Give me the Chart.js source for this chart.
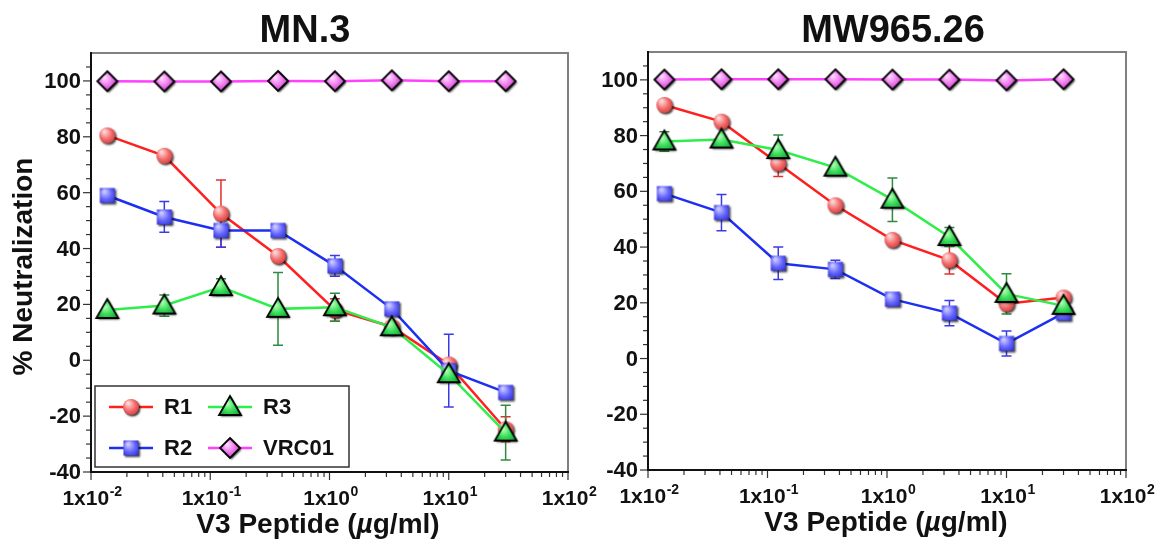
<!DOCTYPE html>
<html>
<head>
<meta charset="utf-8">
<script src="https://cdn.jsdelivr.net/npm/chart.js@4.4.1/dist/chart.umd.min.js"></script>
<style>
  html, body { margin: 0; padding: 0; background: #fff; }
  body { width: 1166px; height: 544px; position: relative; overflow: hidden; }
  canvas { position: absolute; top: 0; }
  #mn3 { left: 0; }
  #mw965 { left: 583px; }
</style>
</head>
<body>
<canvas id="mn3" width="640" height="544"></canvas>
<canvas id="mw965" width="583" height="544"></canvas>
<script>
// peptide concentrations (ug/ml), 3-fold dilutions
const conc = [0.0137, 0.0412, 0.123, 0.370, 1.11, 3.33, 10, 30];
const xTickExps = [-2, -1, 0, 1, 2];
const yTickLabels = [-40, -20, 0, 20, 40, 60, 80, 100];

// MN.3
const mnR1 = [80.5, 73.2, 52.5, 37.3, 18.0, 12.0, -1.5, -24.7];
const mnR1Err = [0, 0, 12.0, 2.0, 4.0, 0, 0, 4.5];
const mnR2 = [59.0, 51.3, 46.5, 46.5, 33.8, 18.4, -3.7, -11.5];
const mnR2Err = [0, 5.5, 6.0, 0, 3.7, 0, 13.0, 0];
const mnR3 = [18.0, 19.6, 26.2, 18.4, 19.0, 11.8, -5.0, -25.9];
const mnR3Err = [0, 3.8, 3.0, 13.0, 5.0, 0, 0, 9.8];
const mnVRC01 = [99.9, 99.8, 99.8, 100.0, 99.9, 100.2, 99.9, 99.9];

// MW965.26
const mwR1 = [91.0, 85.0, 70.0, 55.0, 42.6, 35.3, 19.7, 21.9];
const mwR1Err = [0, 0, 4.7, 0, 0, 5.0, 0, 0];
const mwR2 = [59.2, 52.4, 34.2, 32.0, 21.3, 16.3, 5.4, 16.3];
const mwR2Err = [0, 6.5, 5.8, 3.3, 0, 4.5, 4.5, 0];
const mwR3 = [77.9, 78.6, 74.8, 68.5, 57.0, 43.6, 23.2, 18.9];
const mwR3Err = [3.5, 0, 5.4, 0, 7.8, 3.4, 7.2, 0];
const mwVRC01 = [100.1, 100.2, 100.2, 100.2, 100.1, 100.1, 99.8, 100.2];

const FONT = '"Liberation Sans", Arial, Helvetica, sans-serif';

// shaded marker images with a small drop shadow
function makeMarker(shape, light, mid, dark, outline) {
  const c = document.createElement('canvas');
  c.width = 30; c.height = 30;
  const g = c.getContext('2d');
  const cx = 15, cy = 15;
  g.beginPath();
  if (shape === 'circle') g.arc(cx, cy, 8, 0, Math.PI * 2);
  else if (shape === 'square') g.rect(cx - 7.5, cy - 7.5, 15, 15);
  else if (shape === 'triangle') { g.moveTo(cx, cy - 11); g.lineTo(cx + 11, cy + 8); g.lineTo(cx - 11, cy + 8); g.closePath(); }
  else { g.moveTo(cx, cy - 10); g.lineTo(cx + 10, cy); g.lineTo(cx, cy + 10); g.lineTo(cx - 10, cy); g.closePath(); }
  const grad = g.createRadialGradient(cx - 3, cy - 4, 1, cx, cy, 11);
  grad.addColorStop(0, light);
  grad.addColorStop(0.5, mid);
  grad.addColorStop(1, dark);
  g.save();
  g.shadowColor = 'rgba(0,0,0,0.75)';
  g.shadowBlur = 2;
  g.shadowOffsetX = 1.5;
  g.shadowOffsetY = 1.5;
  g.fillStyle = grad;
  g.fill();
  g.restore();
  if (outline) { g.lineWidth = 1.8; g.strokeStyle = outline; g.stroke(); }
  return c;
}

const styles = {
  R1: { line: '#ff1f1f', err: '#e03030', marker: makeMarker('circle', '#ffd6d6', '#f26a6a', '#c42828', null), order: 4 },
  R2: { line: '#1d2ff0', err: '#3a3ae6', marker: makeMarker('square', '#c8c8ff', '#6464ff', '#2626c4', null), order: 3 },
  R3: { line: '#2fee4a', err: '#2f8a3f', marker: makeMarker('triangle', '#b4ffb4', '#3ce05c', '#14a838', '#000'), order: 2 },
  VRC01: { line: '#ff40ff', err: '#c030c0', marker: makeMarker('diamond', '#ffd8ff', '#f07cf0', '#b636b6', '#000'), order: 1 }
};

function makeDataset(name, values, errs) {
  const s = styles[name];
  return {
    label: name,
    data: conc.map((c, i) => ({ x: c, y: values[i] })),
    errorBars: errs,
    errorColor: s.err,
    borderColor: s.line,
    borderWidth: 2.5,
    pointStyle: s.marker,
    pointRadius: 8,
    pointHoverRadius: 8,
    tension: 0,
    fill: false,
    clip: false,
    order: s.order
  };
}

function drawExpLabel(ctx, text, exp, cx, baseline) {
  ctx.font = 'bold 21px ' + FONT;
  const w1 = ctx.measureText(text).width;
  ctx.font = 'bold 14px ' + FONT;
  const w2 = ctx.measureText(exp).width;
  const start = cx - (w1 + w2) / 2 + 1;
  ctx.textAlign = 'left';
  ctx.textBaseline = 'alphabetic';
  ctx.font = 'bold 21px ' + FONT;
  ctx.fillText(text, start, baseline);
  ctx.font = 'bold 14px ' + FONT;
  ctx.fillText(exp, start + w1 + 0.5, baseline - 9);
}

const framePlugin = {
  id: 'frame',
  beforeDatasetsDraw(chart, args, opts) {
    const { ctx, chartArea: a, scales: { x, y } } = chart;
    ctx.save();
    ctx.fillStyle = '#111';

    // top / right border
    ctx.strokeStyle = '#808080';
    ctx.lineWidth = 2;
    ctx.beginPath();
    ctx.moveTo(a.left, a.top);
    ctx.lineTo(a.right, a.top);
    ctx.lineTo(a.right, a.bottom);
    ctx.stroke();

    // y ticks
    ctx.strokeStyle = '#333';
    ctx.lineWidth = 1.2;
    for (let v = -40; v <= 105; v += 5) {
      const py = y.getPixelForValue(v);
      const len = v % 20 === 0 ? 8 : 5;
      ctx.beginPath();
      ctx.moveTo(a.left - len, py);
      ctx.lineTo(a.left, py);
      ctx.stroke();
    }
    ctx.font = 'bold 22px ' + FONT;
    ctx.textAlign = 'right';
    ctx.textBaseline = 'middle';
    yTickLabels.forEach(v => ctx.fillText(String(v), a.left - 10, y.getPixelForValue(v) + 1));

    // x ticks (log decades + minors)
    xTickExps.forEach(e => {
      const px = x.getPixelForValue(Math.pow(10, e));
      ctx.beginPath();
      ctx.moveTo(px, a.bottom);
      ctx.lineTo(px, a.bottom + 8);
      ctx.stroke();
      if (e < 2) {
        for (let m = 2; m <= 9; m++) {
          const mx = x.getPixelForValue(m * Math.pow(10, e));
          ctx.beginPath();
          ctx.moveTo(mx, a.bottom);
          ctx.lineTo(mx, a.bottom + 5);
          ctx.stroke();
        }
      }
      drawExpLabel(ctx, '1x10', String(e), px, a.bottom + 33);
    });

    // left / bottom axis lines
    ctx.strokeStyle = '#111';
    ctx.lineWidth = 2;
    ctx.beginPath();
    ctx.moveTo(a.left, a.top - 1);
    ctx.lineTo(a.left, a.bottom);
    ctx.lineTo(a.right + 1, a.bottom);
    ctx.stroke();

    // titles
    ctx.textAlign = 'center';
    ctx.textBaseline = 'alphabetic';
    ctx.font = 'bold 38px ' + FONT;
    ctx.fillText(opts.title, opts.titleX, 42);

    // x axis title with italic mu
    const parts = [['V3 Peptide (', 'bold'], ['\u00b5', 'italic bold'], ['g/ml)', 'bold']];
    let total = 0;
    parts.forEach(p => { ctx.font = p[1] + ' 28px ' + FONT; total += ctx.measureText(p[0]).width; });
    let tx = opts.xTitleX - total / 2;
    ctx.textAlign = 'left';
    parts.forEach(p => {
      ctx.font = p[1] + ' 28px ' + FONT;
      ctx.fillText(p[0], tx, a.bottom + 61);
      tx += ctx.measureText(p[0]).width;
    });

    if (opts.yTitle) {
      ctx.save();
      ctx.translate(24, (a.top + a.bottom) / 2 + 4);
      ctx.rotate(-Math.PI / 2);
      ctx.textAlign = 'center';
      ctx.textBaseline = 'middle';
      ctx.font = 'bold 28px ' + FONT;
      ctx.fillText(opts.yTitle, 0, 0);
      ctx.restore();
    }

    // error bars (under markers)
    chart.data.datasets.forEach((ds, i) => {
      const meta = chart.getDatasetMeta(i);
      ctx.strokeStyle = ds.errorColor;
      ctx.lineWidth = 1.5;
      ds.errorBars.forEach((err, j) => {
        if (!err) return;
        const px = meta.data[j].x;
        const v = ds.data[j].y;
        const hi = y.getPixelForValue(v + err);
        const lo = y.getPixelForValue(v - err);
        ctx.beginPath();
        ctx.moveTo(px, hi); ctx.lineTo(px, lo);
        ctx.moveTo(px - 5, hi); ctx.lineTo(px + 5, hi);
        ctx.moveTo(px - 5, lo); ctx.lineTo(px + 5, lo);
        ctx.stroke();
      });
    });
    ctx.restore();
  },
  afterDatasetsDraw(chart, args, opts) {
    if (!opts.legend) return;
    const { ctx, chartArea: a } = chart;
    const bx = a.left + 4, by = a.bottom - 86, bw = 254, bh = 81;
    ctx.save();
    ctx.fillStyle = '#fff';
    ctx.fillRect(bx, by, bw, bh);
    ctx.strokeStyle = '#333';
    ctx.lineWidth = 1.5;
    ctx.strokeRect(bx, by, bw, bh);
    const layout = [['R1', 0, 0], ['R3', 1, 0], ['R2', 0, 1], ['VRC01', 1, 1]];
    layout.forEach(([name, col, row]) => {
      const s = styles[name];
      const x0 = bx + 14 + col * 99;
      const yy = by + 21 + row * 41;
      ctx.strokeStyle = s.line;
      ctx.lineWidth = 2.5;
      ctx.beginPath();
      ctx.moveTo(x0, yy);
      ctx.lineTo(x0 + 44, yy);
      ctx.stroke();
      ctx.drawImage(s.marker, x0 + 22 - 15, yy - 15);
      ctx.fillStyle = '#111';
      ctx.font = 'bold 22px ' + FONT;
      ctx.textAlign = 'left';
      ctx.textBaseline = 'middle';
      ctx.fillText(name, x0 + 55, yy + 1);
    });
    ctx.restore();
  }
};

function makeChart(id, title, sets, padding, opts) {
  return new Chart(document.getElementById(id), {
    type: 'line',
    data: {
      datasets: [
        makeDataset('R1', sets[0], sets[1]),
        makeDataset('R2', sets[2], sets[3]),
        makeDataset('R3', sets[4], sets[5]),
        makeDataset('VRC01', sets[6], conc.map(() => 0))
      ]
    },
    options: {
      responsive: false,
      animation: false,
      devicePixelRatio: 1,
      layout: { padding: padding },
      scales: {
        x: { type: 'logarithmic', min: 0.01, max: 100, display: false },
        y: { type: 'linear', min: -40, max: 110, display: false }
      },
      plugins: {
        legend: { display: false },
        title: { display: false },
        tooltip: { enabled: false },
        frame: Object.assign({ title: title }, opts)
      }
    },
    plugins: [framePlugin]
  });
}

makeChart('mn3', 'MN.3',
  [mnR1, mnR1Err, mnR2, mnR2Err, mnR3, mnR3Err, mnVRC01],
  { left: 91, right: 72, top: 53, bottom: 72 },
  { titleX: 305, xTitleX: 318, yTitle: '% Neutralization', legend: true });

makeChart('mw965', 'MW965.26',
  [mwR1, mwR1Err, mwR2, mwR2Err, mwR3, mwR3Err, mwVRC01],
  { left: 65, right: 40, top: 52, bottom: 74 },
  { titleX: 310, xTitleX: 303, yTitle: null, legend: false });
</script>
</body>
</html>
